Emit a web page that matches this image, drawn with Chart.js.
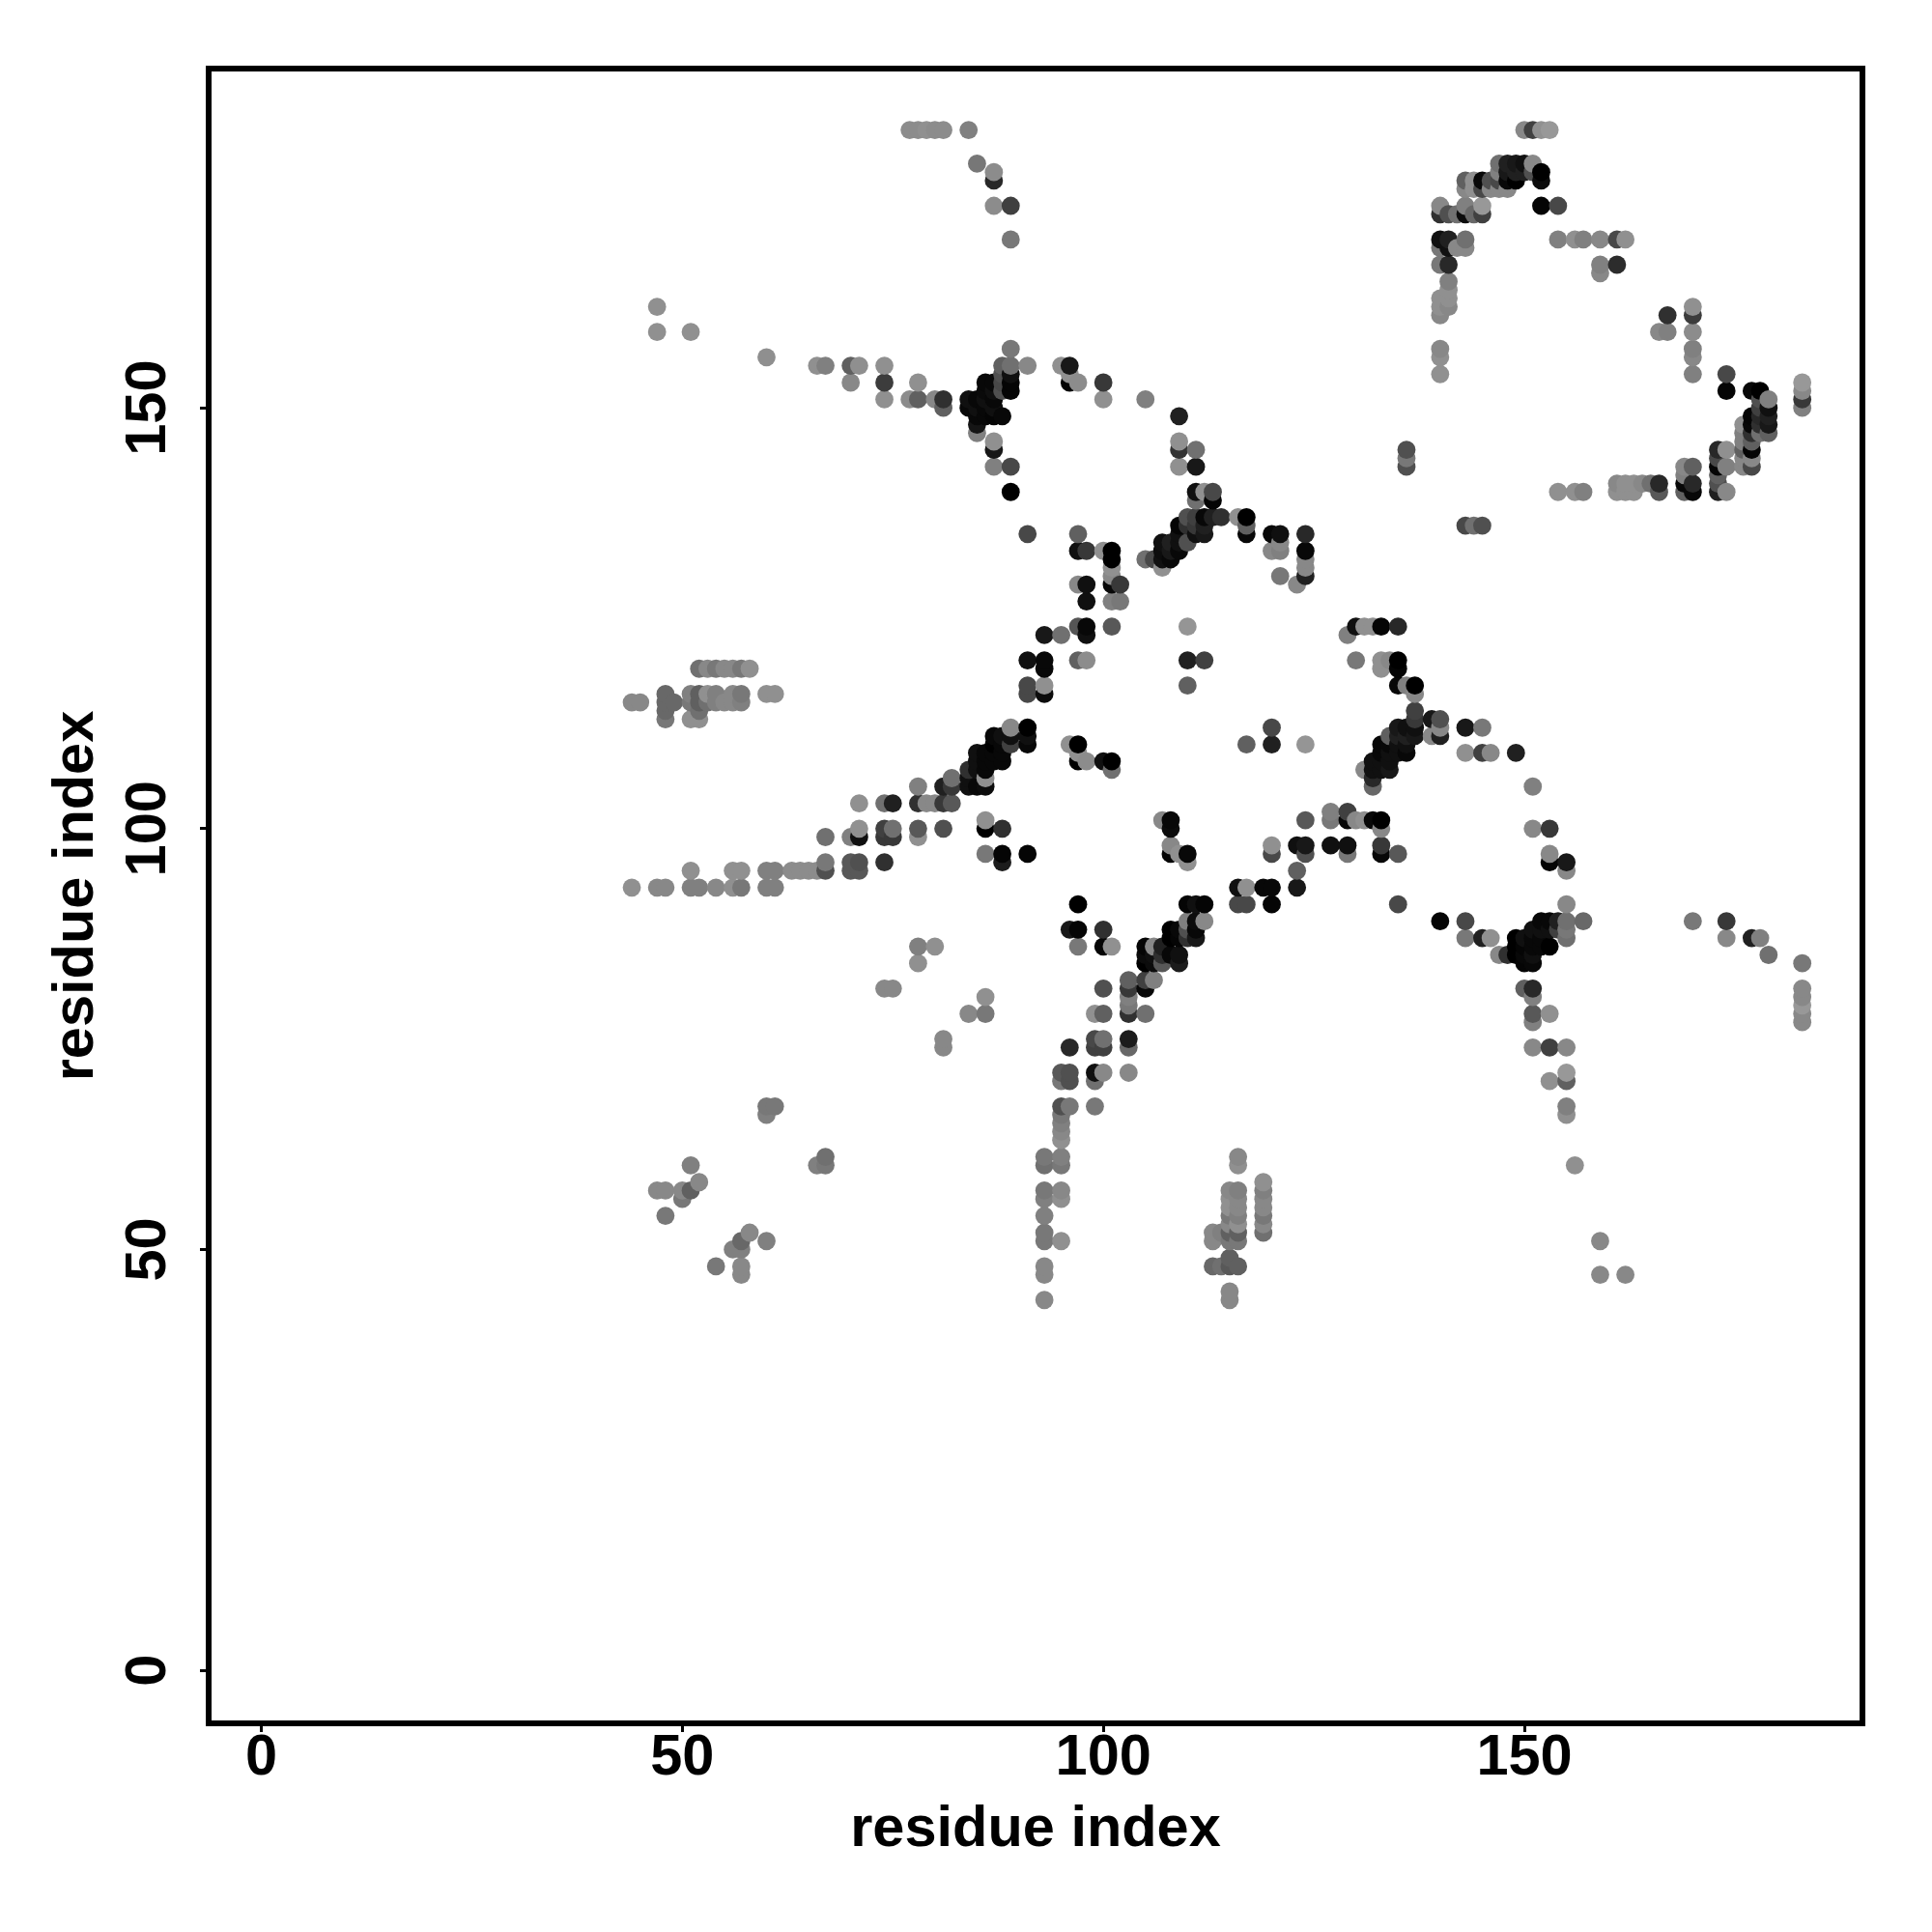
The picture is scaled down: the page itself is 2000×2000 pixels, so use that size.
<!DOCTYPE html>
<html>
<head>
<meta charset="utf-8">
<title>residue contacts</title>
<script src="https://cdn.jsdelivr.net/npm/chart.js@4"></script>
<style>
body { margin: 0; background: #fff; }
canvas { display: block; }
</style>
</head>
<body>
<canvas id="contactChart" width="2000" height="2000"></canvas>
<script>
// values, one row per residue index on the y axis
const rowY = [
  183, 179, 178, 177, 176, 174, 173, 170, 169, 167, 166, 165, 164, 163, 162, 161, 159, 157, 156, 155,
  154, 153, 152, 151, 150, 149, 148, 147, 146, 145, 144, 143, 142, 141, 140, 139, 137, 136, 135, 134,
  133, 132, 131, 130, 129, 127, 124, 123, 120, 119, 117, 116, 115, 114, 113, 112, 111, 110, 109, 108,
  107, 106, 105, 103, 102, 101, 100, 99, 98, 97, 96, 95, 93, 91, 89, 88, 87, 86, 85, 84,
  82, 81, 80, 79, 78, 77, 75, 74, 71, 70, 67, 66, 65, 64, 63, 61, 60, 58, 57, 56,
  55, 54, 53, 52, 51, 50, 49, 48, 47, 45, 44
];
const rowX = [
  [77,78,79,80,81,84,150,151,152,153],
  [85,147,148,149,150,151],
  [87,147,148,149,150,151,152],
  [87,143,144,145,146,147,148,149,152],
  [143,144,145,146,147,148],
  [87,89,140,143,145,152,154],
  [140,141,142,143,144,145],
  [89,140,141,143,154,156,157,159,161,162],
  [140,141,142,143],
  [140,141,159,161],
  [159],
  [141],
  [141],
  [140,141],
  [47,140,141,170],
  [140,167,170],
  [47,51,166,167,170],
  [89,140,170],
  [60,140,170],
  [66,67,70,71,74,88,89,91,95,96],
  [88,89,96,140,170,174],
  [70,74,78,86,87,88,89,96,97,100,183],
  [86,87,88,89,174,177,178,183],
  [74,77,78,80,81,84,85,86,87,100,105,178,179,183],
  [81,84,85,86,87,178,179,183],
  [85,86,87,88,109,177,178,179],
  [85,176,177,178,179],
  [85,176,177,178,179],
  [87,109,176,177],
  [87,109,111,136,173,174,176,177],
  [136,173,176,177],
  [87,89,109,111,136,169,170,173,174,176,177],
  [169,173],
  [161,162,163,164,165,166,169,170,173],
  [89,111,112,113,154,156,157,161,162,163,166,169,170,173,174],
  [111,113],
  [110,111,112,113,114,116,117],
  [109,110,111,112,117,143,144,145],
  [91,97,109,111,112,117,120,121,124],
  [107,108,109,110,121],
  [97,98,100,101,107,108,109,120,121,124],
  [101,105,106,107,108,124],
  [101,107,124],
  [101,121,124],
  [97,98,101,102,123],
  [98,101,102],
  [97,98,101,110,130,131,132,133,135],
  [93,95,98,129],
  [91,93,97,98,110,112,130,133,134,135],
  [52,53,54,55,56,57,58,93,133,135],
  [91,93,110,135,136,137],
  [48,51,52,53,54,56,57,60,61,91,93,137],
  [44,45,48,49,51,52,53,54,55,56,57],
  [48,52,137],
  [48,51,52,137,139,140],
  [89,91,120,135,136,137,140,143,145],
  [87,88,89,91,134,135,136,137,139,140],
  [87,88,89,91,96,97,117,120,124,133,134,135,136],
  [85,86,87,88,97,133,134,135,136,143,145,146,149],
  [85,86,87,88,97,98,100,101,132,133,134],
  [84,85,86,101,131,132,133,134],
  [82,84,86,132],
  [78,81,82,84,85,86,132,151],
  [71,74,75,78,79,80,81,82],
  [127,129],
  [86,107,108,124,127,129,130,131,132,133],
  [71,74,75,78,81,86,88,108,133,151,153],
  [67,70,71,74,75,78],
  [108,120,123,124,127,129,133],
  [86,88,91,108,109,110,120,124,129,133,135,153],
  [67,70,71,74,88,110,153,155],
  [51,56,57,60,61,63,64,65,66,67,70,71,123,155],
  [44,47,48,51,52,54,56,57,60,61,116,117,119,120,123],
  [97,110,111,112,116,117,120,135,155],
  [110,111,112,140,143,152,153,154,155,157,170,174],
  [96,97,100,108,109,110,111,151,152,153,154,155],
  [108,109,110,111,143,145,146,149,150,151,152,155,174,177,178],
  [78,80,97,100,101,105,106,107,149,150,151,152,153],
  [105,106,107,108,109,147,148,149,150,151,179],
  [78,105,106,107,109,150,151,183],
  [103,105,106],
  [74,75,100,103,105,150,151,183],
  [86,103,151,183],
  [103,183],
  [84,86,99,100,103,105,151,153,183],
  [151,183],
  [81,99,100,103],
  [81,96,99,100,103,151,153,155],
  [95,96,99,100,103,155],
  [95,96,99,153,155],
  [60,61,95,96,99,155],
  [60,95,155],
  [95],
  [95],
  [95],
  [67,93,95,116],
  [51,66,67,93,95,116,156],
  [52,119],
  [47,48,50,51,93,95,115,116,119],
  [50,93,95,115,116,119],
  [115,116,119],
  [48,93,115,116,119],
  [115,116,119],
  [58,93,113,114,115,116,119],
  [57,60,93,95,113,115,116,159],
  [56,57],
  [115],
  [54,57,93,113,114,115,116],
  [57,93,159,162],
  [115],
  [93,115]
];
const rowGrey = [
  [0x8c,0x8c,0x90,0x8c,0x8c,0x80,0x88,0x40,0x90,0x98],
  [0x77,0x70,0x20,0x18,0x10,0x88],
  [0x8c,0x80,0x18,0x20,0x20,0x50,0x00],
  [0x28,0x60,0x90,0x08,0x50,0x48,0x08,0x00,0x0c],
  [0x88,0x90,0x48,0x88,0x88,0x88],
  [0x8c,0x40,0x88,0x80,0x98,0x05,0x48],
  [0x30,0x50,0x70,0x0c,0x68,0x40],
  [0x78,0x10,0x20,0x70,0x80,0x90,0x80,0x88,0x48,0x90],
  [0x78,0x10,0x88,0x88],
  [0x78,0x28,0x80,0x2c],
  [0x88],
  [0x80],
  [0x90],
  [0x90,0x90],
  [0x90,0x90,0x88,0x90],
  [0x88,0x30,0x3c],
  [0x90,0x90,0x88,0x80,0x8c],
  [0x78,0x88,0x80],
  [0x8f,0x90,0x88],
  [0x90,0x80,0x60,0x8f,0x90,0x60,0x70,0x88,0x90,0x18],
  [0x50,0x10,0x90,0x90,0x80,0x48],
  [0x88,0x3c,0x90,0x08,0x08,0x48,0x05,0x05,0x8c,0x38,0x98],
  [0x0a,0x10,0x50,0x05,0x05,0x08,0x00,0x88],
  [0x90,0x8c,0x60,0x88,0x30,0x10,0x08,0x10,0x08,0x90,0x80,0x50,0x80,0x38],
  [0x60,0x08,0x10,0x08,0x10,0x40,0x10,0x80],
  [0x08,0x08,0x05,0x08,0x20,0x05,0x28,0x20],
  [0x15,0x90,0x08,0x30,0x18],
  [0x80,0x80,0x30,0x70,0x60],
  [0x90,0x90,0x80,0x60],
  [0x18,0x33,0x70,0x50,0x28,0x90,0x60,0x05],
  [0x78,0x48,0x88,0x88],
  [0x80,0x48,0x90,0x18,0x50,0x88,0x60,0x05,0x80,0x88,0x48],
  [0x80,0x60],
  [0x88,0x90,0x90,0x88,0x70,0x28,0x08,0x28,0x50],
  [0x00,0x10,0x90,0x48,0x90,0x90,0x80,0x90,0x90,0x90,0x58,0x60,0x08,0x20,0x88],
  [0x70,0x05],
  [0x50,0x40,0x08,0x20,0x30,0x90,0x00],
  [0x05,0x30,0x38,0x20,0x60,0x48,0x70,0x50],
  [0x48,0x60,0x10,0x10,0x18,0x08,0x08,0x10,0x28],
  [0x10,0x20,0x10,0x50,0x88],
  [0x10,0x38,0x90,0x00,0x0c,0x18,0x08,0x88,0x80,0x08],
  [0x00,0x70,0x48,0x10,0x08,0x88],
  [0x90,0x90,0x88],
  [0x88,0x78,0x20],
  [0x88,0x10,0x08,0x38,0x88],
  [0x10,0x80,0x78],
  [0x55,0x08,0x58,0x95,0x10,0x90,0x90,0x05,0x28],
  [0x18,0x70,0x10,0x80],
  [0x10,0x08,0x60,0x8c,0x20,0x40,0x78,0x90,0x88,0x00],
  [0x70,0x88,0x78,0x88,0x88,0x78,0x90,0x08,0x90,0x05],
  [0x48,0x90,0x60,0x08,0x80,0x00],
  [0x68,0x80,0x60,0x90,0x80,0x88,0x78,0x90,0x90,0x48,0x0c,0x88],
  [0x88,0x88,0x68,0x68,0x78,0x60,0x70,0x80,0x88,0x88,0x80],
  [0x68,0x70,0x40],
  [0x78,0x90,0x90,0x38,0x18,0x50],
  [0x88,0x00,0x48,0x18,0x10,0x10,0x88,0x18,0x78],
  [0x08,0x10,0x10,0x10,0x60,0x20,0x20,0x18,0x88,0x20],
  [0x00,0x08,0x40,0x08,0x90,0x00,0x60,0x20,0x95,0x08,0x08,0x10,0x10],
  [0x10,0x08,0x08,0x08,0x90,0x08,0x10,0x10,0x08,0x90,0x40,0x88,0x20],
  [0x10,0x08,0x08,0x08,0x00,0x8c,0x10,0x00,0x10,0x10,0x10],
  [0x30,0x10,0x08,0x70,0x88,0x10,0x10,0x18],
  [0x70,0x10,0x90,0x28],
  [0x80,0x20,0x38,0x10,0x08,0x0c,0x68,0x80],
  [0x90,0x70,0x20,0x30,0x88,0x88,0x38,0x58],
  [0x80,0x40],
  [0x90,0x88,0x08,0x58,0x78,0x08,0x88,0x90,0x08,0x00],
  [0x90,0x40,0x70,0x58,0x50,0x00,0x30,0x0c,0x88,0x88,0x38],
  [0x70,0x80,0x10,0x38,0x38,0x90],
  [0x88,0x90,0x10,0x18,0x10,0x10,0x38],
  [0x78,0x05,0x05,0x05,0x90,0x08,0x48,0x50,0x78,0x08,0x58,0x88],
  [0x78,0x58,0x50,0x30,0x1c,0x90,0x05,0x18],
  [0x90,0x90,0x90,0x80,0x80,0x8c,0x8c,0x8c,0x8c,0x50,0x58,0x58,0x60,0x88],
  [0x90,0x88,0x88,0x80,0x80,0x88,0x90,0x78,0x80,0x80,0x10,0x90,0x08,0x08,0x18],
  [0x00,0x05,0x10,0x05,0x48,0x48,0x05,0x48,0x88],
  [0x80,0x0c,0x88,0x05,0x48,0x08,0x08,0x20,0x70,0x68,0x78,0x38],
  [0x18,0x05,0x30,0x00,0x08,0x50,0x08,0x10,0x10,0x10,0x40,0x78],
  [0x00,0x05,0x30,0x18,0x78,0x20,0x90,0x00,0x10,0x08,0x08,0x70,0x88,0x20,0x80],
  [0x80,0x90,0x78,0x05,0x90,0x05,0x88,0x20,0x00,0x05,0x08,0x08,0x00],
  [0x0c,0x10,0x30,0x08,0x10,0x88,0x30,0x00,0x08,0x10,0x70],
  [0x90,0x00,0x0c,0x58,0x1c,0x05,0x08,0x78],
  [0x60,0x40,0x80],
  [0x88,0x88,0x50,0x38,0x08,0x60,0x28,0x88],
  [0x90,0x80,0x80,0x88],
  [0x78,0x98],
  [0x88,0x78,0x90,0x60,0x30,0x70,0x58,0x90,0x88],
  [0x80,0x88],
  [0x88,0x48,0x70,0x1c],
  [0x88,0x28,0x40,0x40,0x68,0x88,0x40,0x88],
  [0x58,0x50,0x10,0x88,0x88,0x98],
  [0x78,0x50,0x70,0x90,0x60],
  [0x78,0x78,0x50,0x78,0x78,0x80],
  [0x80,0x78,0x90],
  [0x80],
  [0x88],
  [0x90],
  [0x70,0x78,0x80,0x88],
  [0x80,0x80,0x78,0x70,0x78,0x90,0x90],
  [0x88,0x90],
  [0x88,0x88,0x88,0x60,0x78,0x88,0x88,0x80,0x80],
  [0x78,0x80,0x90,0x90,0x88,0x88],
  [0x90,0x88,0x88],
  [0x78,0x80,0x78,0x80,0x78],
  [0x88,0x90,0x88],
  [0x88,0x78,0x88,0x80,0x60,0x60,0x70],
  [0x68,0x80,0x78,0x90,0x88,0x78,0x78,0x88],
  [0x80,0x80],
  [0x60],
  [0x78,0x88,0x88,0x68,0x70,0x58,0x60],
  [0x88,0x88,0x88,0x88],
  [0x88],
  [0x88,0x88]
];
const tickValues = [0, 50, 100, 150];
const axisTitle = 'residue index';

// flatten the rows, then paint in x then y order so overlaps stack like the original
const contacts = [];
rowY.forEach((y, r) => {
  rowX[r].forEach((x, i) => contacts.push({ x: x, y: y, grey: rowGrey[r][i] }));
});
contacts.sort((a, b) => a.x - b.x || a.y - b.y);

const boxPlugin = {
  id: 'box',
  afterDatasetsDraw(chart) {
    const { ctx, chartArea: a } = chart;
    ctx.save();
    ctx.strokeStyle = '#000';
    ctx.lineWidth = 6;
    ctx.strokeRect(a.left, a.top, a.right - a.left, a.bottom - a.top);
    ctx.restore();
  }
};

const labelFont = { family: '"Liberation Sans"', size: 59.5, weight: 'bold', lineHeight: 1 };

new Chart(document.getElementById('contactChart').getContext('2d'), {
  type: 'scatter',
  data: {
    datasets: [{
      data: contacts.map(c => ({ x: c.x, y: c.y })),
      pointRadius: 9.4,
      pointBorderWidth: 0,
      pointBackgroundColor: contacts.map(c => `rgb(${c.grey},${c.grey},${c.grey})`)
    }]
  },
  plugins: [boxPlugin],
  options: {
    responsive: false,
    animation: false,
    devicePixelRatio: 1,
    layout: { padding: { top: 71, right: 72, left: 0, bottom: 0 } },
    plugins: { legend: { display: false }, tooltip: { enabled: false } },
    scales: {
      x: {
        type: 'linear',
        min: -6.25,
        max: 190.15,
        afterFit: s => { s.height = 216; },
        afterBuildTicks: s => { s.ticks = tickValues.map(v => ({ value: v })); },
        border: { display: false },
        grid: { drawOnChartArea: false, color: '#000', tickColor: '#000', tickLength: 9, tickWidth: 3 },
        ticks: { color: '#000', font: labelFont, padding: -2, maxRotation: 0 },
        title: { display: true, text: axisTitle, color: '#000', font: labelFont, padding: { top: 0, bottom: 76 } }
      },
      y: {
        type: 'linear',
        min: -6.3,
        max: 190.3,
        afterFit: s => { s.width = 216; },
        afterBuildTicks: s => { s.ticks = tickValues.map(v => ({ value: v })); },
        border: { display: false },
        grid: { drawOnChartArea: false, color: '#000', tickColor: '#000', tickLength: 9, tickWidth: 3 },
        ticks: { color: '#000', font: labelFont, padding: 3, minRotation: 90, maxRotation: 90, crossAlign: 'center' },
        title: { display: true, text: axisTitle, color: '#000', font: labelFont, padding: { top: 50, bottom: 0 } }
      }
    }
  }
});
</script>
</body>
</html>
